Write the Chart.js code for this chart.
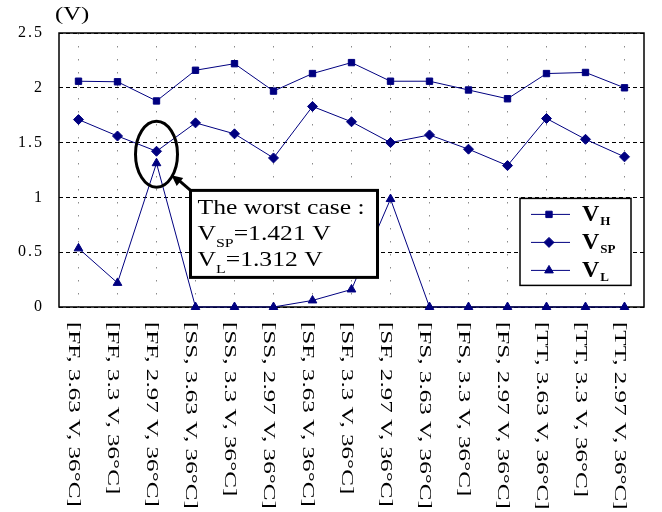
<!DOCTYPE html>
<html>
<head>
<meta charset="utf-8">
<script src="https://cdn.jsdelivr.net/npm/chart.js@4/dist/chart.umd.min.js"></script>
<style>
  html, body { margin: 0; padding: 0; background: #fff; }
  canvas { display: block; }
</style>
</head>
<body>
<canvas id="chart" width="662" height="512"></canvas>
<script>
const categories = [
    '[FF, 3.63 V, 36°C]', '[FF, 3.3 V, 36°C]', '[FF, 2.97 V, 36°C]',
    '[SS, 3.63 V, 36°C]', '[SS, 3.3 V, 36°C]', '[SS, 2.97 V, 36°C]',
    '[SF, 3.63 V, 36°C]', '[SF, 3.3 V, 36°C]', '[SF, 2.97 V, 36°C]',
    '[FS, 3.63 V, 36°C]', '[FS, 3.3 V, 36°C]', '[FS, 2.97 V, 36°C]',
    '[TT, 3.63 V, 36°C]', '[TT, 3.3 V, 36°C]', '[TT, 2.97 V, 36°C]'
];
const vH  = [2.06, 2.055, 1.88, 2.16, 2.22, 1.97, 2.13, 2.23, 2.06, 2.06, 1.98, 1.90, 2.13, 2.14, 2.00];
const vSP = [1.71, 1.56, 1.421, 1.68, 1.58, 1.36, 1.83, 1.69, 1.50, 1.57, 1.44, 1.29, 1.72, 1.53, 1.37];
const vL  = [0.535, 0.22, 1.312, 0, 0, 0, 0.06, 0.16, 0.985, 0, 0, 0, 0, 0, 0];
const yTickLabels = ['0', '0.5', '1', '1.5', '2', '2.5'];
const seriesSubs = ['H', 'SP', 'L'];
const worstIndex = 2;

const SERIF = '"Liberation Serif", "Times New Roman", serif';
const NAVY = '#000080';

// draws text squeezed/stretched horizontally, returns drawn width
function stretchText(ctx, text, x, y, sx) {
    ctx.save();
    ctx.translate(x, y);
    ctx.scale(sx, 1);
    ctx.fillText(text, 0, 0);
    const w = ctx.measureText(text).width * sx;
    ctx.restore();
    return w;
}

function marker(ctx, style, x, y, r) {
    ctx.beginPath();
    if (style === 'rect') {
        const s = r * Math.SQRT1_2;
        ctx.rect(x - s, y - s, 2 * s, 2 * s);
    } else if (style === 'rectRot') {
        ctx.moveTo(x, y - r); ctx.lineTo(x + r, y); ctx.lineTo(x, y + r); ctx.lineTo(x - r, y);
        ctx.closePath();
    } else {
        ctx.moveTo(x, y - r);
        ctx.lineTo(x + r * 0.866, y + r / 2);
        ctx.lineTo(x - r * 0.866, y + r / 2);
        ctx.closePath();
    }
    ctx.fill();
    ctx.stroke();
}

const decorations = {
    id: 'decorations',
    beforeDraw(chart) {
        chart.ctx.letterSpacing = '2px'; // wide y tick digits
    },
    beforeDatasetsDraw(chart) {
        const ctx = chart.ctx;
        const a = chart.chartArea;
        ctx.letterSpacing = '0px';
        ctx.save();
        ctx.strokeStyle = '#000';
        ctx.lineWidth = 1.5;
        ctx.strokeRect(a.left, a.top, a.right - a.left, a.bottom - a.top);
        ctx.restore();
    },
    afterDatasetsDraw(chart) {
        const ctx = chart.ctx;
        const x = chart.scales.x, y = chart.scales.y;
        const a = chart.chartArea;
        ctx.save();
        ctx.fillStyle = '#000';

        // category labels, reading top to bottom
        ctx.font = '16px ' + SERIF;
        ctx.textAlign = 'left';
        ctx.textBaseline = 'middle';
        categories.forEach((lab, i) => {
            ctx.save();
            ctx.translate(x.getPixelForTick(i) - 5, a.bottom + 15);
            ctx.rotate(Math.PI / 2);
            ctx.scale(1.57, 1);
            ctx.fillText(lab, 0, 0);
            ctx.restore();
        });

        // unit
        ctx.textBaseline = 'alphabetic';
        ctx.font = '19px ' + SERIF;
        stretchText(ctx, '(V)', a.left - 4, a.top - 13, 1.3);

        // ellipse round the worst case
        const wx = x.getPixelForValue(worstIndex);
        const wy = y.getPixelForValue((vSP[worstIndex] + vL[worstIndex]) / 2) - 3;
        ctx.strokeStyle = '#000';
        ctx.lineWidth = 3;
        ctx.beginPath();
        ctx.ellipse(wx, wy, 21, 33, 0, 0, Math.PI * 2);
        ctx.stroke();

        // callout box
        const bx = wx + 34, by = y.getPixelForValue(1) - 7, bw = 187, bh = 87;
        const tx = wx + 15, ty = wy + 21;
        ctx.beginPath();
        ctx.moveTo(bx, by);
        ctx.lineTo(tx + 6, ty + 4);
        ctx.stroke();
        const ang = Math.atan2(ty - by, tx - bx);
        ctx.beginPath();
        ctx.moveTo(tx, ty);
        ctx.lineTo(tx - 12 * Math.cos(ang - 0.45), ty - 12 * Math.sin(ang - 0.45));
        ctx.lineTo(tx - 12 * Math.cos(ang + 0.45), ty - 12 * Math.sin(ang + 0.45));
        ctx.closePath();
        ctx.fill();

        ctx.fillStyle = '#fff';
        ctx.fillRect(bx, by, bw, bh);
        ctx.strokeRect(bx, by, bw, bh);
        ctx.fillStyle = '#000';
        const sx = 1.22, lx = bx + 7;
        ctx.font = '21px ' + SERIF;
        stretchText(ctx, 'The worst case :', lx, by + 24, sx);
        const lines = [['SP', '=' + vSP[worstIndex].toFixed(3) + ' V', by + 50],
                       ['L', '=' + vL[worstIndex].toFixed(3) + ' V', by + 76]];
        lines.forEach(([sub, rest, base]) => {
            ctx.font = '21px ' + SERIF;
            let cx = lx + stretchText(ctx, 'V', lx, base, sx);
            ctx.font = '13px ' + SERIF;
            cx += stretchText(ctx, sub, cx, base + 7, sx);
            ctx.font = '21px ' + SERIF;
            stretchText(ctx, rest, cx, base, sx);
        });

        // legend
        const lgR = a.right - 13, lgL = 520, lgT = y.getPixelForValue(1) + 1, lgB = lgT + 87;
        ctx.fillStyle = '#fff';
        ctx.fillRect(lgL, lgT, lgR - lgL, lgB - lgT);
        ctx.strokeStyle = '#000';
        ctx.lineWidth = 1.5;
        ctx.strokeRect(lgL, lgT, lgR - lgL, lgB - lgT);
        chart.data.datasets.forEach((ds, i) => {
            const ry = lgT + 16 + i * 28;
            ctx.strokeStyle = NAVY;
            ctx.fillStyle = NAVY;
            ctx.lineWidth = 1;
            ctx.beginPath();
            ctx.moveTo(lgL + 11, ry);
            ctx.lineTo(lgL + 50, ry);
            ctx.stroke();
            marker(ctx, ds.pointStyle, lgL + 29, ry, ds.pointRadius);
            ctx.fillStyle = '#000';
            ctx.font = 'bold 24px ' + SERIF;
            const vw = stretchText(ctx, 'V', lgL + 62, ry + 7, 1);
            ctx.font = 'bold 13px ' + SERIF;
            stretchText(ctx, seriesSubs[i], lgL + 63 + vw, ry + 11, 1);
        });
        ctx.restore();
    }
};

function series(data, style, radius) {
    return {
        data: data,
        borderColor: NAVY,
        backgroundColor: NAVY,
        borderWidth: 1,
        pointStyle: style,
        pointRadius: radius,
        pointBorderWidth: 1,
        tension: 0,
        clip: false
    };
}

new Chart(document.getElementById('chart'), {
    type: 'line',
    data: {
        labels: categories,
        datasets: [
            series(vH, 'rect', 4.5),
            series(vSP, 'rectRot', 5),
            series(vL, 'triangle', 5)
        ]
    },
    options: {
        responsive: false,
        animation: false,
        layout: { padding: { left: 0, right: 18, top: 33, bottom: 0 } },
        plugins: { legend: { display: false }, tooltip: { enabled: false } },
        scales: {
            x: {
                offset: true,
                afterFit: s => { s.height = 205; },
                ticks: { display: false },
                grid: { color: '#8a8a8a', lineWidth: 1, drawTicks: false },
                border: { display: false, dash: [1.5, 11.5] }
            },
            y: {
                min: 0,
                max: 2.5,
                afterFit: s => { s.width = 59; },
                ticks: {
                    stepSize: 0.5,
                    padding: 15,
                    color: '#000',
                    font: { family: SERIF, size: 16 },
                    callback: v => yTickLabels[Math.round(v / 0.5)]
                },
                grid: { color: '#000', lineWidth: 1, drawTicks: false },
                border: { display: false, dash: [4, 3] }
            }
        }
    },
    plugins: [decorations]
});
</script>
</body>
</html>
